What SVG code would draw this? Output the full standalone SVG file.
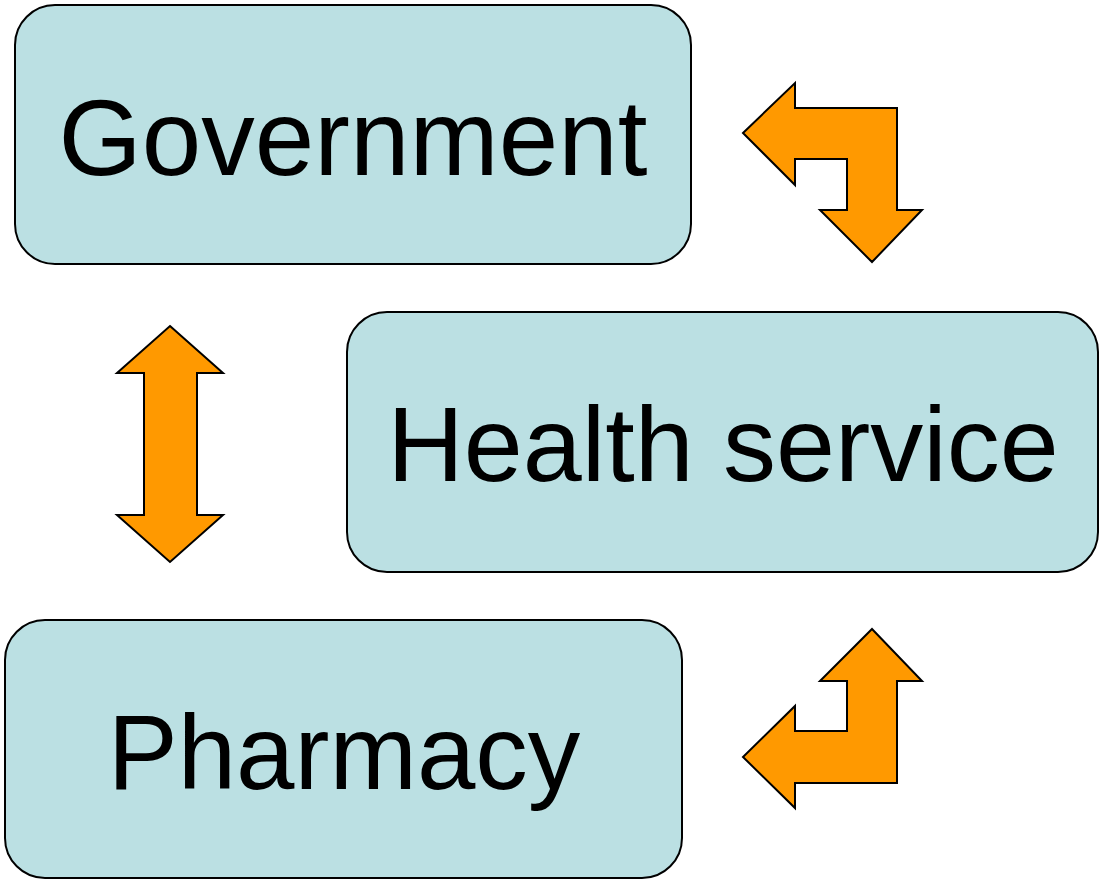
<svg xmlns="http://www.w3.org/2000/svg" width="1100" height="879" viewBox="0 0 1100 879">
<style>
.box{fill:#BBE0E3;stroke:#000;stroke-width:2}
.lbl{font-family:"Liberation Sans",Arial,sans-serif;font-size:107px;fill:#000;text-anchor:middle}
.arr{fill:#FF9900;stroke:#000;stroke-width:2;stroke-linejoin:miter}
</style>
<rect width="1100" height="879" fill="#fff"/>
<g id="government">
<rect class="box" x="15" y="5" width="676" height="259" rx="40" ry="40"/>
<text class="lbl" x="353" y="175">Government</text>
</g>
<g id="health-service">
<rect class="box" x="347" y="312" width="751" height="260" rx="40" ry="40"/>
<text class="lbl" x="723" y="481" style="font-size:106px">Health service</text>
</g>
<g id="pharmacy">
<rect class="box" x="5" y="620" width="677" height="258" rx="40" ry="40"/>
<text class="lbl" x="344" y="789" style="font-size:105px">Pharmacy</text>
</g>
<g id="connectors">
<polygon class="arr" points="743,133 795,83 795,108 897,108 897,210 922,210 872,262 820,210 847,210 847,159 795,159 795,185"/>
<polygon class="arr" points="872,629 922,681 897,681 897,783 795,783 795,808 743,757 795,706 795,731 847,731 847,681 820,681"/>
<polygon class="arr" points="170,326 223,373 197,373 197,515 223,515 170,562 117,515 144,515 144,373 117,373"/>
</g>
</svg>
